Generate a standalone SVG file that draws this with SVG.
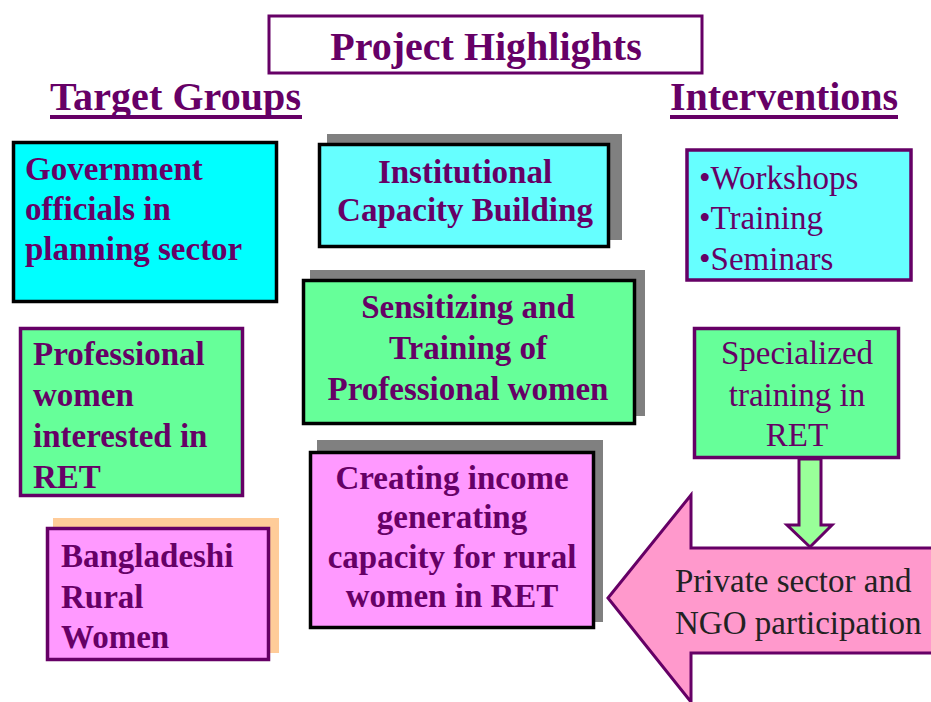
<svg xmlns="http://www.w3.org/2000/svg" width="931" height="702" viewBox="0 0 931 702" font-family="Liberation Serif, DejaVu Serif, serif">
<style>
.b{font-weight:bold;font-size:33px;fill:#660066}
.r{font-size:33px;fill:#660066}
.h{font-weight:bold;font-size:40px;fill:#660066}
.k{stroke:#000;stroke-width:3.5}
.p{stroke:#660066;stroke-width:3.5}
.sh{fill:#808080}
.c{text-anchor:middle}
</style>
<rect width="931" height="702" fill="#fff"/>
<g id="title">
<rect x="269" y="16" width="433" height="57" fill="#fff" stroke="#660066" stroke-width="3"/>
<text class="h c" x="486" y="60" font-family="Liberation Serif, serif">Project Highlights</text>
</g>
<g id="target-groups">
<text class="h" x="50" y="110" textLength="251" font-family="Liberation Serif, serif">Target Groups</text>
<rect x="50" y="115" width="252" height="4" fill="#660066"/>
</g>
<g id="interventions">
<text class="h" x="670" y="110" textLength="228" font-family="Liberation Serif, serif">Interventions</text>
<rect x="670" y="115" width="228" height="4" fill="#660066"/>
</g>
<g id="gov" font-family="Liberation Serif, serif">
<rect x="13.5" y="142.5" width="263" height="159" fill="#00FFFF" class="k"/>
<text class="b" x="25" y="180">Government</text>
<text class="b" x="25" y="220">officials in</text>
<text class="b" x="25" y="260">planning sector</text>
</g>
<g id="prof" font-family="Liberation Serif, serif">
<rect x="20.5" y="328.5" width="222" height="167" fill="#66FF99" class="p"/>
<text class="b" x="33" y="365">Professional</text>
<text class="b" x="33" y="406">women</text>
<text class="b" x="33" y="447">interested in</text>
<text class="b" x="33" y="488">RET</text>
</g>
<g id="rural" font-family="Liberation Serif, serif">
<rect x="53" y="518" width="226" height="135" fill="#FFCC99"/>
<rect x="47.5" y="528.5" width="221" height="131" fill="#FF99FF" class="p"/>
<text class="b" x="61" y="567">Bangladeshi</text>
<text class="b" x="61" y="608">Rural</text>
<text class="b" x="61" y="648">Women</text>
</g>
<g id="icb" font-family="Liberation Serif, serif">
<rect x="327" y="134" width="295" height="106" class="sh"/>
<rect x="319.5" y="144.5" width="289" height="102" fill="#66FFFF" class="k"/>
<text class="b c" x="465" y="183">Institutional</text>
<text class="b c" x="465" y="221">Capacity Building</text>
</g>
<g id="sens" font-family="Liberation Serif, serif">
<rect x="310" y="270" width="335" height="146" class="sh"/>
<rect x="303.5" y="280.5" width="331" height="143" fill="#66FF99" class="k"/>
<text class="b c" x="468" y="318">Sensitizing and</text>
<text class="b c" x="468" y="359">Training of</text>
<text class="b c" x="468" y="400">Professional women</text>
</g>
<g id="income" font-family="Liberation Serif, serif">
<rect x="317" y="440" width="286" height="182" class="sh"/>
<rect x="310.5" y="452.5" width="283" height="175" fill="#FF99FF" class="k"/>
<text class="b c" x="452" y="489">Creating income</text>
<text class="b c" x="452" y="528">generating</text>
<text class="b c" x="452" y="568">capacity for rural</text>
<text class="b c" x="452" y="607">women in RET</text>
</g>
<g id="workshops" font-family="Liberation Serif, serif">
<rect x="687" y="150" width="224" height="130" fill="#66FFFF" class="p"/>
<text class="r" x="699" y="189">•Workshops</text>
<text class="r" x="699" y="229">•Training</text>
<text class="r" x="699" y="270">•Seminars</text>
</g>
<g id="specialized" font-family="Liberation Serif, serif">
<rect x="694.5" y="328.5" width="204" height="129" fill="#66FF99" class="p"/>
<text class="r c" x="797" y="364">Specialized</text>
<text class="r c" x="797" y="406">training in</text>
<text class="r c" x="797" y="446">RET</text>
</g>
<g id="connectors">
<polygon points="799,459 821,459 821,525 832,525 810,547 787,525 799,525" fill="#99FF99" stroke="#660066" stroke-width="3"/>
<polygon id="private-arrow" points="608,598 691,495 691,548 945,548 945,653 691,653 691,702" fill="#FF99CC" stroke="#660066" stroke-width="3"/>
</g>
<g id="private" font-family="Liberation Serif, serif">
<text class="r" x="675" y="592" fill="#222" style="fill:#222">Private sector and</text>
<text class="r" x="675" y="634" fill="#222" style="fill:#222">NGO participation</text>
</g>
</svg>
